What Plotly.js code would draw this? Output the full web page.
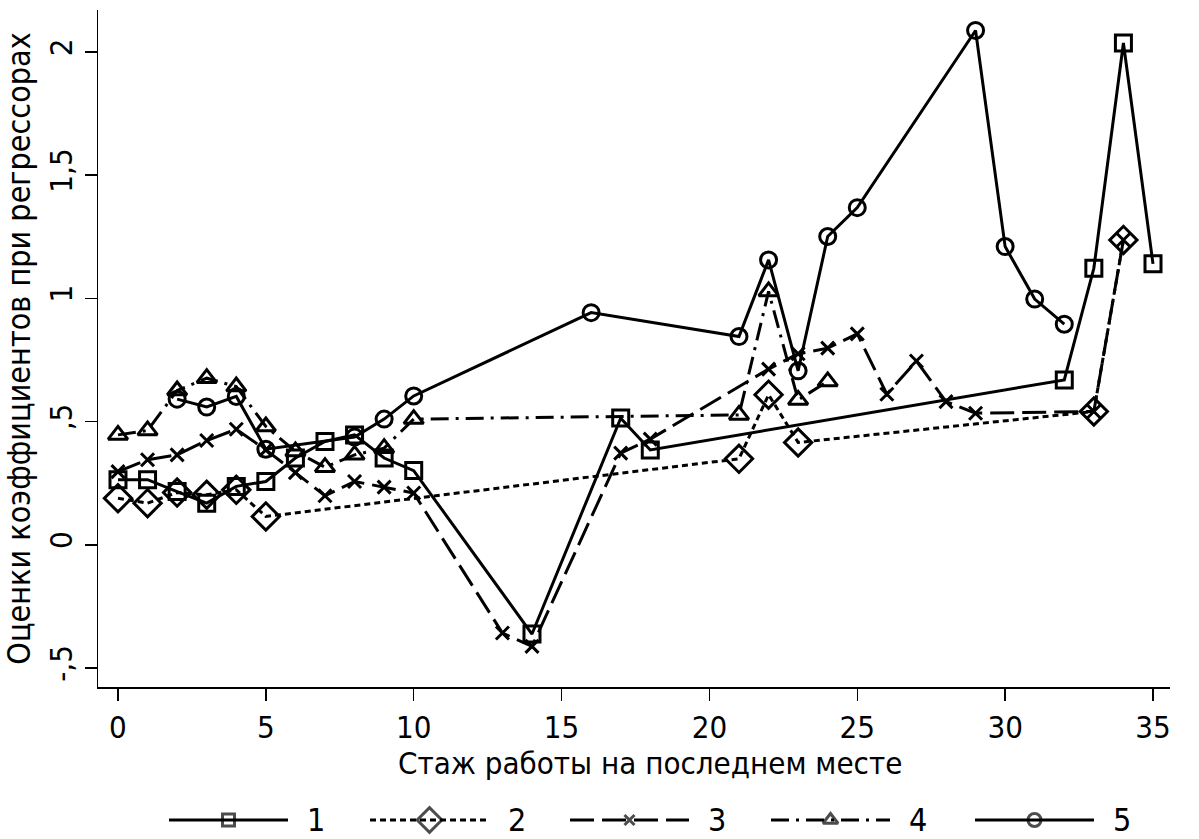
<!DOCTYPE html>
<html><head><meta charset="utf-8">
<script src="https://cdn.plot.ly/plotly-3.0.1.min.js"></script>
<style>html,body{margin:0;padding:0;background:#fff}#chart{width:1199px;height:839px}</style>
</head><body><div id="chart"></div>
<script>
// ---- data ----
const seriesNames = ["1", "2", "3", "4", "5"];

const s1x = [0,1,2,3,4,5,6,7,8,9,10,14,17,18,32,33,34,35];
const s1y = [0.264,0.264,0.216,0.169,0.237,0.257,0.352,0.419,0.446,0.352,0.301,-0.362,0.514,0.385,0.669,1.122,2.036,1.140];

const s2x = [0,1,2,3,4,5,21,22,23,33,34];
const s2y = [0.189,0.169,0.212,0.203,0.223,0.115,0.349,0.609,0.415,0.541,1.237];

const s3x = [0,1,2,3,4,5,6,7,8,9,10,13,14,17,18,22,23,24,25,26,27,28,29,33,34];
const s3y = [0.297,0.345,0.365,0.423,0.469,0.385,0.293,0.199,0.257,0.234,0.210,-0.358,-0.412,0.372,0.429,0.713,0.775,0.798,0.856,0.611,0.746,0.581,0.534,0.541,1.237];

const s4x = [0,1,2,3,4,5,6,7,8,9,10,21,22,23,24];
const s4y = [0.446,0.464,0.626,0.676,0.642,0.480,0.379,0.315,0.365,0.392,0.510,0.527,1.028,0.588,0.663];

const s5x = [2,3,4,5,8,9,10,16,21,22,23,24,25,29,30,31,32];
const s5y = [0.591,0.559,0.602,0.388,0.437,0.510,0.604,0.942,0.845,1.156,0.706,1.251,1.368,2.087,1.210,0.997,0.895];

const xTickVals = [0,5,10,15,20,25,30,35];
const xTickText = ["0","5","10","15","20","25","30","35"];
const yTickVals = [-0.5,0,0.5,1,1.5,2];
const yTickText = ["-,5","0",",5","1","1,5","2"];

const xTitle = "Стаж работы на последнем месте";
const yTitle = "Оценки коэффициентов при регрессорах";

// ---- styles ----
const FONT = "Liberation Sans Narrow, DejaVu Sans Condensed, Arial Narrow, Liberation Sans, sans-serif";
const styles = [
  {dash:"solid", symbol:"square-open", size:16, lsize:12},
  {dash:"6px,4px", symbol:"diamond-open", size:21, lsize:19},
  {dash:"24px,8px", symbol:"x-thin-open", size:13, lsize:10},
  {dash:"18px,7px,3px,7px", symbol:"triangle-up-open", size:17, lsize:13},
  {dash:"solid", symbol:"circle-open", size:16, lsize:13}
];
const LW = 3;
const allX = [s1x,s2x,s3x,s4x,s5x];
const allY = [s1y,s2y,s3y,s4y,s5y];

const traces = [];
for (let i=0;i<5;i++){
  traces.push({
    x: allX[i], y: allY[i], type:"scatter", mode:"lines+markers", name: seriesNames[i],
    showlegend:false, xaxis:"x", yaxis:"y",
    line:{color:"#000", width:LW, dash:styles[i].dash},
    marker:{symbol:styles[i].symbol, size:styles[i].size, color:"#000",
            line:{color:"#000", width:LW}}
  });
}
// custom legend drawn on a hidden pixel-scaled axis pair at the bottom
const legStart = [169,370,570,771,975];
const legW = 119;
const legY = 820;
const annotations = [];
for (let i=0;i<5;i++){
  const a = legStart[i];
  traces.push({
    x:[a, a+legW/2, a+legW], y:[legY,legY,legY], type:"scatter", mode:"lines+markers",
    xaxis:"x2", yaxis:"y2", showlegend:false, hoverinfo:"skip",
    line:{color:"#000", width:LW, dash:styles[i].dash},
    marker:{symbol:styles[i].symbol, size:[0,styles[i].lsize,0], color:"#000",
            line:{color:"#000", width:LW}}
  });
  annotations.push({xref:"x2", yref:"y2", x:a+legW+28, y:legY, text:seriesNames[i],
    showarrow:false, font:{family:FONT, size:32, color:"#000"}, xanchor:"center", yanchor:"middle"});
}

const H = 839, T = 10, B = 0;
const plotH = H - T - B;
annotations.push({xref:"paper", yref:"paper", x:(650-98)/1072, y:(H-763)/plotH, text:xTitle,
  showarrow:false, font:{family:FONT, size:31, color:"#000"}, xanchor:"center", yanchor:"middle"});

const layout = {
  width:1199, height:839,
  margin:{l:98, r:29, t:T, b:B},
  paper_bgcolor:"#fff", plot_bgcolor:"#fff",
  font:{family:FONT, size:32, color:"#000"},
  showlegend:false,
  xaxis:{
    domain:[0,1], anchor:"y", range:[-0.676,35.575],
    tickvals:xTickVals, ticktext:xTickText,
    showline:true, linecolor:"#000", linewidth:1.5, mirror:false,
    ticks:"outside", ticklen:12, tickwidth:1.5, tickcolor:"#000",
    showgrid:false, zeroline:false,
    tickfont:{family:FONT, size:31, color:"#000"}
  },
  yaxis:{
    domain:[(H-687-B)/plotH, 1], anchor:"x", range:[-0.577,2.170],
    tickvals:yTickVals, ticktext:yTickText, tickangle:-90,
    showline:true, linecolor:"#000", linewidth:1.5, mirror:false,
    ticks:"outside", ticklen:12, tickwidth:1.5, tickcolor:"#000",
    showgrid:false, zeroline:false,
    tickfont:{family:FONT, size:31, color:"#000"},
    title:{text:yTitle, font:{family:FONT, size:32, color:"#000"}, standoff:4}
  },
  xaxis2:{domain:[0,1], anchor:"y2", range:[98,1170], visible:false, fixedrange:true},
  yaxis2:{domain:[0,(H-800)/plotH], anchor:"x2", range:[839,800], visible:false, fixedrange:true},
  annotations:annotations
};
Plotly.newPlot("chart", traces, layout, {displayModeBar:false, staticPlot:true});
</script></body></html>
